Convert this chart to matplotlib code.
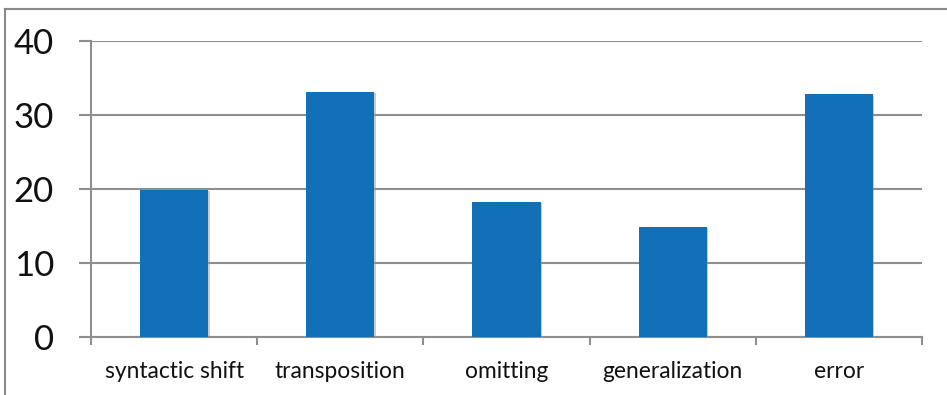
import matplotlib
matplotlib.use("Agg")
from matplotlib import pyplot as plt
from matplotlib import patheffects
from matplotlib.lines import Line2D

categories = ["syntactic shift", "transposition", "omitting", "generalization", "error"]
values = [19.9, 33.1, 18.3, 14.9, 32.8]
y_ticks = [0, 10, 20, 30, 40]

bar_color = "#1170b8"
grid_color = "#8e8e8e"

plt.rcParams["font.family"] = ["Lato", "DejaVu Sans"]

fig = plt.figure(figsize=(9.47, 3.95), dpi=100)
ax = fig.add_axes([91 / 947, 1 - 337 / 395, 831 / 947, 296 / 395])

x = list(range(len(categories)))
bars = ax.bar(x, values, width=0.41, color=bar_color, zorder=3)
for b in bars:
    b.set_path_effects([patheffects.SimplePatchShadow(offset=(1, -1), shadow_rgbFace="#999999", alpha=0.5),
                        patheffects.Normal()])

ax.set_xlim(-0.5, len(categories) - 0.5)
ax.set_ylim(0, 40)
ax.set_yticks(y_ticks)
ax.set_yticklabels([str(t) for t in y_ticks], fontsize=25, color="#111111")
ax.yaxis.grid(True, color=grid_color, linewidth=1.5, zorder=0)
ax.tick_params(axis="y", length=8.6, width=1.5, color=grid_color, pad=18)

# category boundaries get the tick marks, labels sit in the middle
ax.set_xticks([i - 0.5 for i in range(len(categories) + 1)])
ax.set_xticklabels([])
ax.set_xticks(x, minor=True)
ax.set_xticklabels(categories, minor=True, fontsize=16.4, color="#111111")
ax.tick_params(axis="x", which="major", length=6, width=1.5, color=grid_color)
ax.tick_params(axis="x", which="minor", length=0, pad=17.5)

for s in ["top", "right"]:
    ax.spines[s].set_visible(False)
for s in ["left", "bottom"]:
    ax.spines[s].set_color(grid_color)
    ax.spines[s].set_linewidth(1.5)

# outer frame along top and left edges
fig.add_artist(Line2D([5 / 947, 1], [1 - 9 / 395, 1 - 9 / 395], color="#8a8a8a", linewidth=1.5))
fig.add_artist(Line2D([5 / 947, 5 / 947], [0, 1 - 9 / 395], color="#8a8a8a", linewidth=1.5))

fig.savefig("out.png", dpi=100)
